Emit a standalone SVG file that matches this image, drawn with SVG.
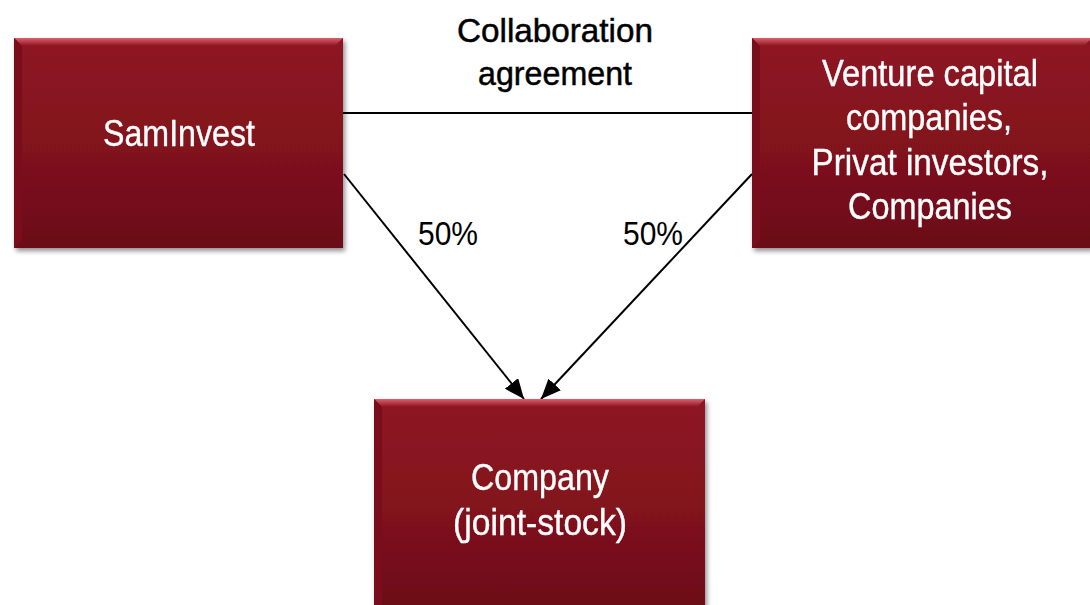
<svg xmlns="http://www.w3.org/2000/svg" width="1090" height="605" viewBox="0 0 1090 605">
<defs>
<linearGradient id="fill" x1="0" y1="0" x2="0" y2="1">
<stop offset="0" stop-color="#8e1422"/>
<stop offset="0.5" stop-color="#82121e"/>
<stop offset="1" stop-color="#6a0e18"/>
</linearGradient>
<linearGradient id="topbev" x1="0" y1="0" x2="0" y2="1">
<stop offset="0" stop-color="#d9606c"/>
<stop offset="1" stop-color="#8e1422"/>
</linearGradient>
<filter id="sh" x="-5%" y="-5%" width="115%" height="115%">
<feGaussianBlur in="SourceAlpha" stdDeviation="2.5"/>
<feOffset dx="2" dy="3"/>
<feComponentTransfer><feFuncA type="linear" slope="0.45"/></feComponentTransfer>
<feMerge><feMergeNode/><feMergeNode in="SourceGraphic"/></feMerge>
</filter>
<marker id="arr" viewBox="0 0 10 10" refX="10" refY="5" markerWidth="20" markerHeight="17" markerUnits="userSpaceOnUse" orient="auto" preserveAspectRatio="none">
<path d="M0,0 L10,5 L0,10 z" fill="#000"/>
</marker>
</defs>
<style>
.box{fill:url(#fill);}
.bev{fill:url(#topbev);}
.nt{font-family:"Liberation Sans","Arial",sans-serif;font-size:37px;fill:#fff;stroke:#fff;stroke-width:0.4;text-anchor:middle;}
.lt{font-family:"Liberation Sans","Arial",sans-serif;font-size:34px;fill:#000;text-anchor:middle;}
.conn{stroke:#000;stroke-width:2;fill:none;}
</style>
<rect width="1090" height="605" fill="#fff"/>
<g id="connectors">
<line class="conn" x1="343" y1="113" x2="752" y2="113"/>
<line class="conn" x1="344" y1="174" x2="524" y2="399" marker-end="url(#arr)"/>
<line class="conn" x1="752" y1="174" x2="541" y2="399" marker-end="url(#arr)"/>
<text class="lt" x="555" y="42" textLength="196" lengthAdjust="spacingAndGlyphs" stroke="#000" stroke-width="0.5">Collaboration</text>
<text class="lt" x="555" y="85" textLength="154" lengthAdjust="spacingAndGlyphs" stroke="#000" stroke-width="0.5">agreement</text>
<text class="lt" x="448" y="245" textLength="60" lengthAdjust="spacingAndGlyphs">50%</text>
<text class="lt" x="653" y="245" textLength="60" lengthAdjust="spacingAndGlyphs">50%</text>
</g>
<g id="saminvest" filter="url(#sh)">
<rect class="box" x="14" y="38" width="329" height="210"/>
<path class="bev" d="M14,38 H343 L335,46 H22 Z"/>
<path d="M14,38 L22,46 V240 L14,248 Z" fill="#7a101c"/>
<text class="nt" x="179" y="146" textLength="152" lengthAdjust="spacingAndGlyphs">SamInvest</text>
</g>
<g id="venture" filter="url(#sh)">
<rect class="box" x="752" y="38" width="340" height="210"/>
<path class="bev" d="M752,38 H1092 L1084,46 H760 Z"/>
<path d="M752,38 L760,46 V240 L752,248 Z" fill="#7a101c"/>
<text class="nt" x="930" y="86" textLength="216" lengthAdjust="spacingAndGlyphs">Venture capital</text>
<text class="nt" x="929" y="130" textLength="166" lengthAdjust="spacingAndGlyphs">companies,</text>
<text class="nt" x="930" y="175" textLength="237" lengthAdjust="spacingAndGlyphs">Privat investors,</text>
<text class="nt" x="930" y="219" textLength="164" lengthAdjust="spacingAndGlyphs">Companies</text>
</g>
<g id="company" filter="url(#sh)">
<rect class="box" x="374" y="399" width="331" height="215"/>
<path class="bev" d="M374,399 H705 L697,407 H382 Z"/>
<path d="M374,399 L382,407 V614 L374,614 Z" fill="#7a101c"/>
<text class="nt" x="540" y="490" textLength="138" lengthAdjust="spacingAndGlyphs">Company</text>
<text class="nt" x="540" y="535" textLength="174" lengthAdjust="spacingAndGlyphs">(joint-stock)</text>
</g>
</svg>
